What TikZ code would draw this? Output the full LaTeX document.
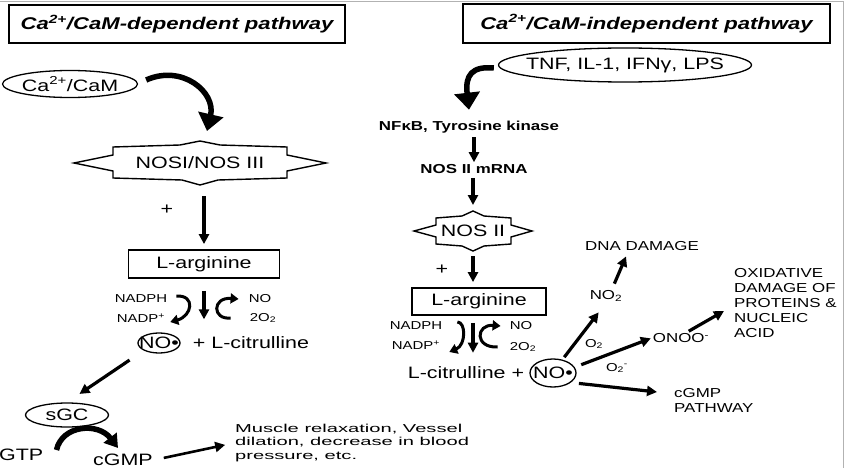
\documentclass[tikz,border=0pt]{standalone}
\usepackage{fontspec}
\setmainfont[FakeStretch=1.3]{Liberation Sans}
\newfontfamily\largefont[FakeStretch=1.75]{Liberation Sans}
\usetikzlibrary{arrows.meta,shapes.geometric}

\begin{document}
\begin{tikzpicture}[x=1pt, y=-1pt,
    titre/.style={draw, line width=1.8pt, inner sep=0pt,
                  font=\fontsize{17}{20}\selectfont\bfseries\itshape},
    boite/.style={draw, line width=1.8pt, inner sep=0pt, font=\fontsize{16.5}{19}\selectfont},
    ovale/.style={draw, ellipse, line width=1.3pt, inner xsep=-15pt, inner ysep=0pt,
                  font=\fontsize{16.5}{19}\selectfont},
    etiq/.style={inner sep=1pt, font=\fontsize{16.5}{19}\selectfont},
    petit/.style={inner sep=1pt, font=\fontsize{11.5}{13.5}\selectfont},
    moyen/.style={inner sep=1pt, font=\fontsize{13}{15}\selectfont},
    gras/.style={inner sep=1pt, font=\fontsize{13}{15}\selectfont\bfseries},
    enzyme/.style={line width=1.4pt, line join=miter},
    fleche/.style={-{Triangle[length=10pt,width=10pt]}, line width=3.2pt},
    courbe/.style={-{Triangle[length=8pt,width=10pt]}, line width=3pt},
    grossefleche/.style={-{Triangle[length=17pt,width=25pt]}, line width=5.5pt},
    arcfleche/.style={-{Triangle[length=13pt,width=16pt]}, line width=5.5pt}
]
    \useasboundingbox (0,0) rectangle (848,468);
    \draw[gray!60, line width=1pt] (0,2) -- (843,2) -- (843,468);

    % titles
    \node[titre, minimum width=336pt, minimum height=38pt] (tdep) at (177,24)
        {Ca\textsuperscript{2+}/CaM-dependent pathway};
    \node[titre, minimum width=367pt, minimum height=39pt] (tind) at (646.5,23.5)
        {Ca\textsuperscript{2+}/CaM-independent pathway};

    % dependent pathway
    \node[ovale, minimum width=135pt, minimum height=27pt] (cacam) at (70,84) {Ca\textsuperscript{2+}/CaM};
    \draw[enzyme] (74,163) -- (113,155) -- (113,147) -- (180,145) -- (200,141) -- (220,145)
        -- (287,147) -- (287,155) -- (326,163) -- (287,171) -- (287,178) -- (218,180)
        -- (200,185) -- (182,180) -- (113,178) -- (113,171) -- cycle;
    \node[etiq] (nos13) at (200,163) {NOSI/NOS III};
    \coordinate (nos13n) at (200,141);
    \coordinate (nos13s) at (200,185);
    \draw[grossefleche] ([xshift=8pt,yshift=4pt]cacam.east) .. controls (182,64) and (216,92)
        .. ([xshift=7pt,yshift=10pt]nos13n);

    \node[etiq] (plus1) at (167,210) {+};
    \node[boite, minimum width=151pt, minimum height=28pt] (arg1) at (204,264) {L-arginine};
    \draw[fleche, shorten <=11pt, shorten >=5pt] (arg1.north |- nos13s) -- (arg1.north);

    \node[petit] (nadph1) at (141,299) {NADPH};
    \node[petit] (nadp1) at (141,318) {NADP\textsuperscript{+}};
    \node[petit] (no1) at (260,299) {NO};
    \node[petit] (o2a) at (263,318) {2O\textsubscript{2}};
    \node[ovale, minimum width=42pt, minimum height=20pt] (noa) at (159,343) {NO•};
    \node[etiq] (cit1) at (251,343) {+ L-citrulline};
    \draw[fleche, shorten <=12pt, shorten >=13pt] (arg1.south) -- (arg1.south |- noa.north);
    \draw[courbe] ([xshift=8pt,yshift=3pt]nadph1.east) .. controls (196,295) and (192,316)
        .. ([xshift=4pt,yshift=-4pt]nadp1.east);
    \draw[courbe] ([xshift=-18pt]o2a.west) .. controls (212,320) and (212,297)
        .. ([xshift=-9pt]no1.west);

    \node[ovale, minimum width=83pt, minimum height=24pt] (sgc) at (67,415) {sGC};
    \draw[fleche, shorten <=17pt, shorten >=15pt] (noa.south west) -- (sgc.north);
    \node[etiq, anchor=west, inner sep=0pt] (gtp) at (-1,455) {GTP};
    \node[etiq] (cgmp1) at (123,460) {cGMP};
    \draw[arcfleche] ([xshift=13pt,yshift=5pt]gtp.east) .. controls (62,425) and (98,422)
        .. ([xshift=-5pt,yshift=5pt]cgmp1.north);
    \node[inner sep=1pt, font=\fontsize{11.5}{13.5}\largefont, align=left, anchor=west] (effet) at (234,443)
        {Muscle relaxation, Vessel\\dilation, decrease in blood\\pressure, etc.};
    \draw[fleche, line width=2.6pt, shorten <=10pt, shorten >=9pt] (cgmp1.east) -- (effet.west);

    % independent pathway
    \node[ovale, minimum width=253pt, minimum height=34pt] (tnf) at (625,65) {TNF, IL-1, IFNγ, LPS};
    \node[gras] (nfkb) at (469,127) {NFκB, Tyrosine kinase};
    \draw[grossefleche] ([xshift=-4pt,yshift=-3pt]tnf.west) .. controls (472,66) and (465,75)
        .. ([yshift=10pt]nfkb.north);
    \node[gras] (mrna) at (474,169) {NOS II mRNA};
    \draw[fleche, shorten <=3pt, shorten >=1pt] (nfkb.south -| mrna) -- (mrna.north);

    \draw[enzyme] (414,231) -- (436,225) -- (436,218) -- (462,216) -- (473,211) -- (484,216)
        -- (511,218) -- (511,225) -- (532,231) -- (511,237) -- (511,244) -- (484,246)
        -- (473,251) -- (462,246) -- (436,244) -- (436,237) -- cycle;
    \node[etiq] (nos2) at (473,231) {NOS II};
    \coordinate (nos2n) at (473,211);
    \coordinate (nos2s) at (473,251);
    \draw[fleche, shorten <=3pt, shorten >=6pt] (mrna.south -| nos2n) -- (nos2n);

    \node[etiq] (plus2) at (442,270) {+};
    \node[boite, minimum width=134pt, minimum height=27pt] (arg2) at (479,301.5) {L-arginine};
    \draw[fleche, shorten <=5pt, shorten >=5pt] (nos2s) -- (nos2s |- arg2.north);

    \node[petit] (nadph2) at (416,326) {NADPH};
    \node[petit] (nadp2) at (416,345) {NADP\textsuperscript{+}};
    \node[petit] (no2r) at (521,326) {NO};
    \node[petit] (o2b) at (523,347) {2O\textsubscript{2}};
    \node[etiq] (cit2) at (466,373) {L-citrulline +};
    \node[ovale, minimum width=46pt, minimum height=28pt] (nob) at (553,373) {NO•};
    \draw[fleche, shorten <=7pt, shorten >=13pt] (nos2s |- arg2.south) -- (nos2s |- cit2.north);
    \draw[courbe] ([xshift=14pt,yshift=4pt]nadph2.east) .. controls (466,322) and (466,345)
        .. ([xshift=8pt,yshift=-7pt]nadp2.east);
    \draw[courbe] ([xshift=-11pt]o2b.west) .. controls (474,348) and (476,324)
        .. ([xshift=-8pt]no2r.west);

    \node[moyen] (nodeux) at (606,296) {NO\textsubscript{2}};
    \node[moyen] (dna) at (642,246) {DNA DAMAGE};
    \node[moyen] (onoo) at (681,338) {ONOO\textsuperscript{-}};
    \node[moyen, align=left, anchor=west] (oxid) at (733,303)
        {OXIDATIVE\\DAMAGE OF\\PROTEINS \&\\NUCLEIC\\ACID};
    \node[moyen, align=left, anchor=west] (voie) at (673,400) {cGMP\\PATHWAY};
    \node[petit] (lo2) at (594,344) {O\textsubscript{2}};
    \node[petit] (lo2m) at (617,368) {O\textsubscript{2}\textsuperscript{-}};

    \draw[fleche, shorten <=3pt, shorten >=12pt] (nob.55) -- (nodeux.south);
    \draw[fleche, shorten <=6pt, shorten >=5pt] ([xshift=6pt]nodeux.north) -- ([xshift=-14pt]dna.south);
    \draw[fleche, shorten <=7pt, shorten >=1pt] (nob.15) -- (onoo.west);
    \draw[fleche, shorten <=2pt] ([xshift=6pt]onoo.north) -- ([xshift=-9pt,yshift=-8pt]oxid.west);
    \draw[fleche, shorten <=8pt] (nob.-28) -- ([xshift=-16pt,yshift=8pt]voie.west);
\end{tikzpicture}
\end{document}
